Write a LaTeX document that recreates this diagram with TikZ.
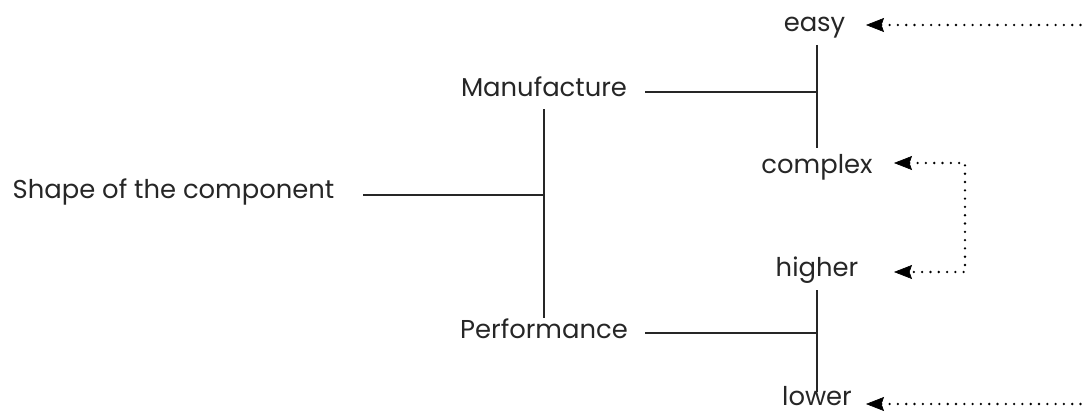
\documentclass[tikz,border=0pt]{standalone}
\usepackage{fontspec}
\setmainfont{Poppins}
\usetikzlibrary{arrows.meta}
\newlength\mwid
\begin{document}
\settowidth\mwid{\fontsize{10}{12}\selectfont Manufacture}%
\pgfmathsetmacro\fsz{10*166/\mwid}%
\begin{tikzpicture}[x=1pt,y=-1pt]
\tikzset{
  lab/.style={inner sep=0pt, anchor=base, text=black!85, font=\fontsize{\fsz}{\fsz}\selectfont},
  bar/.style={line width=2.4pt, black!85},
  headtip/.tip={Stealth[length=18pt,width=14pt,inset=2.5pt,line width=0.6pt,line cap=butt]},
  dotline/.style={line width=2.6pt, line cap=round, dash pattern=on 0pt off 8.3pt, black},
  dotarrow/.style={dotline, arrows={headtip-}},
  dotarrows/.style={dotline, arrows={headtip-headtip}},
}
\useasboundingbox (0,0) rectangle (1085,412);
% labels
\node[lab] (shape) at (173.5,198.5) {Shape of the component};
\node[lab] (manu) at (544,96.7) {Manufacture};
\node[lab] (perf) at (544,338.3) {Performance};
\node[lab] (easy) at (814.5,32) {easy};
\node[lab] (complex) at (817,173) {complex};
\node[lab] (higher) at (817,276) {higher};
\node[lab] (lower) at (817,405) {lower};
% junction coordinates
\coordinate (s0) at (363,195);
\coordinate (s1) at (544,195);
\coordinate (v1t) at (544,109);
\coordinate (v1b) at (544,318);
\coordinate (m0) at (645,92);
\coordinate (m1) at (817,92);
\coordinate (m2t) at (817,45);
\coordinate (m2b) at (817,148);
\coordinate (p0) at (645,333);
\coordinate (p1) at (817,333);
\coordinate (p2t) at (817,290);
\coordinate (p2b) at (817,392);
% arrow coordinates
\coordinate (etip) at (866,25);
\coordinate (eend) at (1083,25);
\coordinate (ctip) at (894,163);
\coordinate (c1) at (965,163);
\coordinate (c2) at (965,272);
\coordinate (htip) at (894,272);
\coordinate (ltip) at (866,404);
\coordinate (lend) at (1083,404);
% tree lines
\draw[bar] (s0) -- (s1);
\draw[bar] (v1t) -- (v1b);
\draw[bar] (m0) -- (m1);
\draw[bar] (m2t) -- (m2b);
\draw[bar] (p0) -- (p1);
\draw[bar] (p2t) -- (p2b);
% dotted arrows
\draw[dotarrow] (etip) -- (eend);
\draw[dotarrows] (ctip) -- (c1) -- (c2) -- (htip);
\draw[dotarrow] (ltip) -- (lend);
\end{tikzpicture}
\end{document}
